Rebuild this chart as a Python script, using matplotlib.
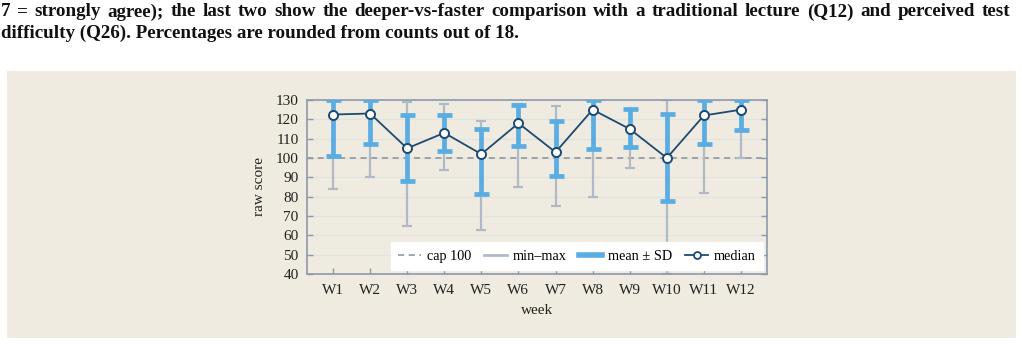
import numpy as np
import matplotlib
matplotlib.use("Agg")
import matplotlib.pyplot as plt
from matplotlib.patches import Rectangle
from matplotlib.lines import Line2D

plt.rcParams['font.family'] = ['Liberation Serif', 'DejaVu Serif']

# data
weeks = ['W1', 'W2', 'W3', 'W4', 'W5', 'W6', 'W7', 'W8', 'W9', 'W10', 'W11', 'W12']
median = [122.5, 123, 105, 113, 102, 118, 103, 125, 115, 100, 122, 125]
vmin = [84, 90, 65, 94, 63, 85, 75, 80, 95, 40, 82, 100]
vmax = [130, 130, 129, 128, 119, 128, 127, 130, 125, 130, 130, 130]
sd_lo = [101, 107, 88, 103.5, 81.5, 106, 90.5, 104.5, 105.5, 78, 107, 114.5]
sd_hi = [130, 130, 122, 122.5, 115, 127.5, 119, 130, 125.5, 123, 130, 130]

caption1 = ("7 = strongly agree); the last two show the deeper-vs-faster comparison "
            "with a traditional lecture (Q12) and perceived test")
caption2 = "difficulty (Q26). Percentages are rounded from counts out of 18."

x = np.arange(1, len(weeks) + 1)
median = np.array(median)
vmin = np.array(vmin)
vmax = np.array(vmax)
sd_lo = np.array(sd_lo)
sd_hi = np.array(sd_hi)

beige = '#efebe0'
gray = '#b0bac6'
blue = '#5aade2'
navy = '#1d4a73'

W, H = 1022, 345
fig = plt.figure(figsize=(W / 100, H / 100), dpi=100)
fig.patch.set_facecolor('white')

# beige panel behind the chart
fig.patches.append(Rectangle((7 / W, 1 - 338 / H), 1009 / W, 267 / H,
                             transform=fig.transFigure, facecolor=beige,
                             edgecolor='none', zorder=-5))

# caption: first line justified word by word
cap_kw = dict(fontsize=13.7, fontweight='bold', va='center', ha='left', color='#111111')
renderer = fig.canvas.get_renderer()
words = caption1.split(' ')
texts = [fig.text(0, 1 - 12 / H, w, **cap_kw) for w in words]
widths = [t.get_window_extent(renderer).width for t in texts]
gap = (1010 - 1 - sum(widths)) / (len(words) - 1)
xpos = 1
for t, w in zip(texts, widths):
    t.set_x(xpos / W)
    xpos += w + gap
fig.text(1 / W, 1 - 33 / H, caption2, **cap_kw)

ax = fig.add_axes([307 / W, 1 - 274 / H, 460 / W, 174 / H])
ax.set_facecolor(beige)

for y in range(40, 131, 10):
    ax.axhline(y, color='#e3e3e0', lw=1.0, zorder=0)

ax.axhline(100, color='#8a8f96', lw=1.1, ls=(0, (4, 3)), zorder=1)

mid = (vmin + vmax) / 2
ax.errorbar(x, mid, yerr=[mid - vmin, vmax - mid], fmt='none', ecolor=gray,
            elinewidth=1.6, capsize=3.8, capthick=1.6, zorder=2)
mid2 = (sd_lo + sd_hi) / 2
ax.errorbar(x, mid2, yerr=[mid2 - sd_lo, sd_hi - mid2], fmt='none', ecolor=blue,
            elinewidth=3.4, capsize=5.4, capthick=3.4, zorder=3)
ax.plot(x, median, color=navy, lw=1.3, marker='o', ms=6.5, mfc='white',
        mec=navy, mew=1.4, zorder=4, clip_on=False)

ax.set_xlim(0.3, 12.7)
ax.set_ylim(40, 130)
ax.set_xticks(x)
ax.set_xticklabels(weeks)
ax.set_yticks(range(40, 131, 10))
ax.tick_params(axis='both', direction='in', labelsize=11, colors='#8c9aab',
               labelcolor='#222222', length=4, width=1, right=True)
ax.tick_params(axis='x', pad=7)
ax.tick_params(axis='y', pad=6)
for s in ax.spines.values():
    s.set_color('#8c9aab')
    s.set_linewidth(1.2)

ax.set_xlabel('week', fontsize=11, color='#222222', labelpad=5)
ax.set_ylabel('raw score', fontsize=11, color='#222222', labelpad=7)

handles = [
    Line2D([], [], color='#8a8f96', lw=1.1, ls=(0, (4, 3))),
    Line2D([], [], color=gray, lw=2),
    Line2D([], [], color=blue, lw=4),
    Line2D([], [], color=navy, lw=1.3, marker='o', ms=5, mfc='white', mec=navy, mew=1.3),
]
labels = ['cap 100', 'min\u2013max', 'mean \u00b1 SD', 'median']
leg = ax.legend(handles, labels, loc='lower right', ncol=4, fontsize=10.3,
                frameon=True, fancybox=False, framealpha=1, edgecolor='white',
                handlelength=1.6, handletextpad=0.4, columnspacing=0.9,
                borderpad=0.5, borderaxespad=0.3)
leg.set_zorder(5)

fig.savefig('out.png', dpi=100)
